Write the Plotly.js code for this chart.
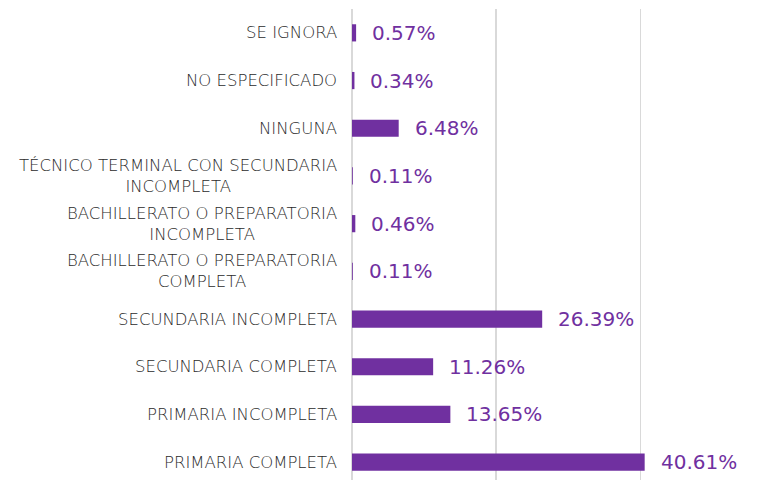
<!DOCTYPE html>
<html>
<head>
<meta charset="utf-8">
<script src="https://cdn.plot.ly/plotly-3.0.1.min.js"></script>
<style>
html,body{margin:0;padding:0;overflow:hidden;background:#fff;}
#chart{width:778px;height:486px;}
</style>
</head>
<body>
<div id="chart"></div>
<script>
var categories = [
  "SE IGNORA",
  "NO ESPECIFICADO",
  "NINGUNA",
  "TÉCNICO TERMINAL CON SECUNDARIA<br>INCOMPLETA",
  "BACHILLERATO O PREPARATORIA<br>INCOMPLETA",
  "BACHILLERATO O PREPARATORIA<br>COMPLETA",
  "SECUNDARIA INCOMPLETA",
  "SECUNDARIA COMPLETA",
  "PRIMARIA INCOMPLETA",
  "PRIMARIA COMPLETA"
];
var values = [0.57, 0.34, 6.48, 0.11, 0.46, 0.11, 26.39, 11.26, 13.65, 40.61];
var valueLabels = ["0.57%", "0.34%", "6.48%", "0.11%", "0.46%", "0.11%", "26.39%", "11.26%", "13.65%", "40.61%"];

var purple = "#7030A0";

var trace = {
  type: "bar",
  orientation: "h",
  x: values,
  y: categories,
  marker: {color: purple},
  width: 0.36,
  hoverinfo: "none"
};

var annotations = [];
for (var i = 0; i < categories.length; i++) {
  annotations.push({
    x: values[i], y: categories[i], xref: "x", yref: "y",
    text: valueLabels[i], showarrow: false,
    xanchor: "left", yanchor: "middle", xshift: 14,
    font: {family: "DejaVu Sans, sans-serif", size: 20, color: purple}
  });
  annotations.push({
    x: 0, y: categories[i], xref: "paper", yref: "y",
    text: categories[i], showarrow: false,
    xanchor: "right", yanchor: "middle", xshift: -13, align: "center",
    font: {family: "DejaVu Sans, sans-serif", size: 16.5, color: "#2b2b2b", weight: 300}
  });
}

var layout = {
  width: 778, height: 486,
  margin: {l: 352, r: 8, t: 9, b: 0, pad: 0},
  paper_bgcolor: "#fff", plot_bgcolor: "#fff",
  showlegend: false,
  xaxis: {
    range: [0, 58], dtick: 20, showticklabels: false,
    showgrid: true, gridcolor: "#d9d9d9", gridwidth: 1.5,
    zeroline: true, zerolinecolor: "#d9d9d9", zerolinewidth: 1.5,
    showline: false, fixedrange: true
  },
  yaxis: {
    type: "category", autorange: "reversed",
    showticklabels: false, showgrid: false, zeroline: false, showline: false
  },
  annotations: annotations
};

Plotly.newPlot("chart", [trace], layout, {displayModeBar: false, staticPlot: true});
</script>
</body>
</html>
